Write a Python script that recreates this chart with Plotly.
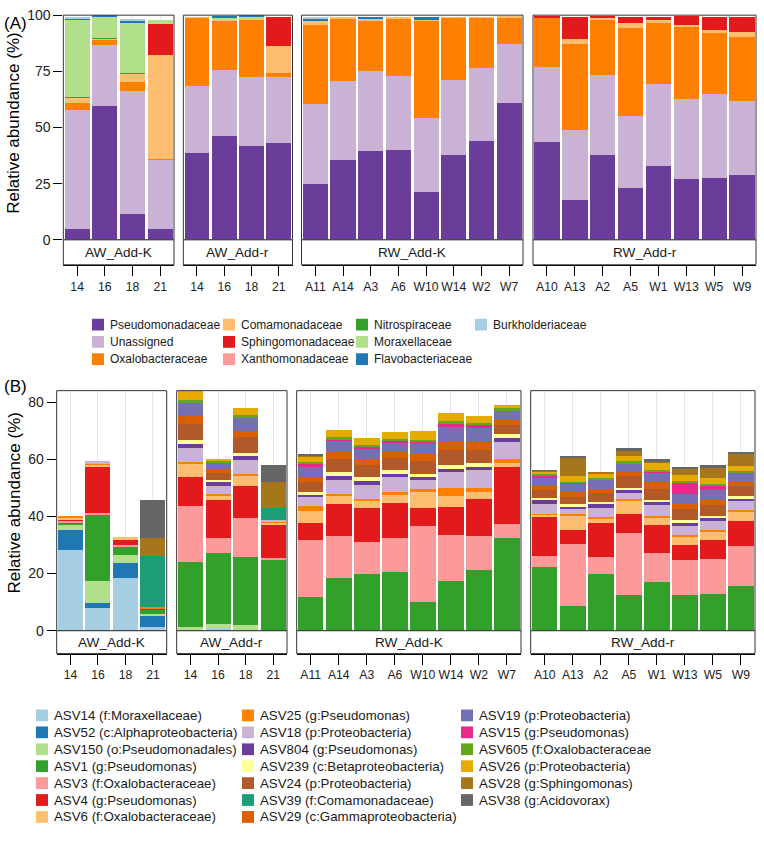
import plotly.graph_objects as go

W, H = 764, 849
FONT = "Liberation Sans, Arial, sans-serif"

# ---------------- data ----------------
groups = ["AW_Add-K", "AW_Add-r", "RW_Add-K", "RW_Add-r"]
samples_awk = ["14", "16", "18", "21"]
samples_awr = ["14", "16", "18", "21"]
samples_rwk = ["A11", "A14", "A3", "A6", "W10", "W14", "W2", "W7"]
samples_rwr = ["A10", "A13", "A2", "A5", "W1", "W13", "W5", "W9"]
samples = [samples_awk, samples_awr, samples_rwk, samples_rwr]

# Panel A: families (values in sample order AW_Add-K | AW_Add-r | RW_Add-K | RW_Add-r)
families = ["Pseudomonadaceae", "Unassigned", "Oxalobacteraceae", "Comamonadaceae",
            "Sphingomonadaceae", "Xanthomonadaceae", "Nitrospiraceae", "Moraxellaceae",
            "Flavobacteriaceae", "Burkholderiaceae"]
family_colors = ["#6A3D9A", "#CAB2D6", "#FF7F00", "#FDBF6F", "#E31A1C", "#FB9A99",
                 "#33A02C", "#B2DF8A", "#1F78B4", "#A6CEE3"]
pseudomonadaceae = [4.9, 59.7, 11.4, 4.8, 38.6, 46.4, 41.6, 42.9,
                    25.0, 35.4, 39.4, 39.9, 21.5, 37.7, 44.0, 60.8,
                    43.5, 17.6, 37.8, 23.0, 33.0, 27.2, 27.7, 28.8]
unassigned = [52.9, 27.2, 54.7, 30.9, 30.0, 29.1, 30.7, 29.4,
              35.5, 35.1, 35.9, 33.2, 32.6, 33.6, 32.6, 26.2,
              33.6, 31.3, 35.7, 32.2, 36.6, 35.4, 37.1, 32.8]
oxalobacteraceae = [3.0, 2.2, 4.1, 0.3, 30.2, 21.9, 25.8, 2.0,
                    35.3, 27.9, 22.1, 25.3, 43.3, 27.5, 22.2, 12.1,
                    21.7, 38.3, 24.2, 39.3, 27.1, 32.5, 27.2, 28.9]
comamonadaceae = [2.5, 0.5, 3.6, 46.3, 0.3, 0.3, 0.3, 12.1,
                  1.5, 0.7, 1.1, 0.6, 0.6, 0.3, 0.3, 0.2,
                  0.3, 2.0, 0.9, 1.9, 1.0, 0.6, 1.3, 2.2]
sphingomonadaceae = [0.0, 0.0, 0.0, 13.6, 0.0, 0.0, 0.0, 12.6,
                     0.0, 0.0, 0.0, 0.0, 0.0, 0.0, 0.0, 0.0,
                     0.2, 10.1, 0.9, 3.0, 1.7, 3.8, 6.0, 6.6]
xanthomonadaceae = [0.0, 0.0, 0.0, 0.0, 0.0, 0.0, 0.0, 0.0,
                    0.0, 0.0, 0.0, 0.0, 0.0, 0.0, 0.0, 0.0,
                    0.0, 0.0, 0.0, 0.0, 0.0, 0.0, 0.0, 0.0]
nitrospiraceae = [0.3, 0.1, 0.3, 0.0, 0.0, 0.0, 0.0, 0.0,
                  0.0, 0.0, 0.0, 0.0, 0.0, 0.0, 0.0, 0.0,
                  0.0, 0.0, 0.0, 0.0, 0.0, 0.0, 0.0, 0.0]
moraxellaceae = [34.2, 9.8, 22.6, 2.0, 0.0, 1.2, 0.8, 0.0,
                 0.0, 0.0, 0.0, 0.0, 0.0, 0.0, 0.0, 0.0,
                 0.0, 0.0, 0.0, 0.0, 0.0, 0.0, 0.0, 0.0]
flavobacteriaceae = [0.3, 0.4, 0.5, 0.0, 0.0, 0.5, 0.5, 0.0,
                     1.2, 0.0, 0.5, 0.0, 1.2, 0.0, 0.0, 0.0,
                     0.0, 0.0, 0.0, 0.0, 0.0, 0.0, 0.0, 0.0]
burkholderiaceae = [1.0, 0.0, 1.2, 0.0, 0.0, 0.0, 0.0, 0.0,
                    0.5, 0.0, 0.0, 0.0, 0.0, 0.0, 0.0, 0.0,
                    0.0, 0.0, 0.0, 0.0, 0.0, 0.0, 0.0, 0.0]
family_values = [pseudomonadaceae, unassigned, oxalobacteraceae, comamonadaceae,
                 sphingomonadaceae, xanthomonadaceae, nitrospiraceae, moraxellaceae,
                 flavobacteriaceae, burkholderiaceae]

# Panel B: ASVs
asvs = ["ASV14 (f:Moraxellaceae)", "ASV52 (c:Alphaproteobacteria)", "ASV150 (o:Pseudomonadales)",
        "ASV1 (g:Pseudomonas)", "ASV3 (f:Oxalobacteraceae)", "ASV4 (g:Pseudomonas)",
        "ASV6 (f:Oxalobacteraceae)", "ASV25 (g:Pseudomonas)", "ASV18 (p:Proteobacteria)",
        "ASV804 (g:Pseudomonas)", "ASV239 (c:Betaproteobacteria)", "ASV24 (p:Proteobacteria)",
        "ASV39 (f:Comamonadaceae)", "ASV29 (c:Gammaproteobacteria)", "ASV19 (p:Proteobacteria)",
        "ASV15 (g:Pseudomonas)", "ASV605 (f:Oxalobacteraceae", "ASV26 (p:Proteobacteria)",
        "ASV28 (g:Sphingomonas)", "ASV38 (g:Acidovorax)"]
asv_colors = ["#A6CEE3", "#1F78B4", "#B2DF8A", "#33A02C", "#FB9A99", "#E31A1C", "#FDBF6F",
              "#FF7F00", "#CAB2D6", "#6A3D9A", "#FFFF99", "#B15928", "#1B9E77", "#D95F02",
              "#7570B3", "#E7298A", "#66A61E", "#E6AB02", "#A6761D", "#666666"]
asv14 = [28.3, 8.1, 18.4, 1.3, 0.0, 1.0, 0.3, 0.0] + [0.0] * 16
asv52 = [7.1, 1.6, 5.3, 4.2, 0.0, 0.0, 0.0, 0.0] + [0.0] * 16
asv150 = [1.5, 7.8, 2.8, 0.3, 1.2, 1.5, 1.8, 0.0] + [0.0] * 16
asv1 = [1.2, 23.3, 3.2, 1.4, 22.9, 24.7, 23.6, 25.1,
        11.7, 18.3, 20.0, 20.4, 10.2, 17.4, 21.3, 32.4,
        22.2, 8.5, 19.9, 12.6, 17.0, 12.5, 13.0, 15.7]
asv3 = [0.5, 0.3, 0.3, 0.0, 19.7, 5.2, 13.6, 0.3,
        20.0, 15.0, 11.1, 12.1, 26.5, 16.2, 12.0, 5.0,
        4.1, 21.9, 6.0, 21.6, 10.1, 12.2, 12.1, 13.9]
asv4 = [0.6, 16.5, 2.2, 0.7, 10.1, 13.4, 11.5, 12.0,
        5.9, 10.9, 11.9, 12.2, 6.1, 9.8, 12.7, 20.0,
        13.6, 5.0, 11.7, 6.5, 10.0, 5.3, 6.8, 8.8]
asv6 = [0.5, 0.4, 0.6, 0.0, 4.8, 1.6, 3.6, 0.5,
        4.4, 3.4, 2.4, 2.9, 5.9, 3.7, 2.7, 1.2,
        0.8, 4.9, 1.8, 5.0, 2.6, 3.1, 2.9, 3.5]
asv25 = [0.3, 0.8, 0.0, 0.5, 0.3, 0.4, 0.3, 0.6,
         1.6, 0.4, 0.8, 0.9, 1.0, 2.8, 1.4, 1.4,
         0.3, 0.4, 0.3, 0.3, 0.3, 0.5, 0.5, 0.5]
asv18 = [0.0, 0.6, 0.0, 0.0, 5.0, 3.0, 5.2, 0.3,
         3.2, 4.9, 4.9, 5.3, 3.0, 5.5, 6.0, 6.2,
         3.5, 2.1, 3.3, 2.5, 3.9, 2.9, 3.1, 2.9]
asv804 = [0.0, 0.0, 0.0, 0.0, 1.4, 1.2, 1.4, 0.0,
          0.8, 1.1, 1.2, 1.1, 1.0, 1.1, 1.2, 1.4,
          1.4, 0.5, 1.2, 0.6, 1.2, 1.1, 1.0, 0.9]
asv239 = [0.0, 0.0, 0.0, 0.0, 1.5, 0.8, 0.9, 0.0,
          1.1, 1.4, 1.4, 1.4, 1.1, 1.4, 1.3, 1.2,
          0.7, 0.9, 0.9, 0.8, 0.8, 1.2, 0.9, 0.8]
asv24 = [0.0, 0.0, 0.0, 0.0, 5.3, 2.4, 5.5, 0.0,
         3.5, 4.6, 4.2, 4.1, 4.6, 5.3, 4.8, 3.2,
         2.7, 2.6, 3.1, 4.1, 3.8, 3.8, 3.6, 3.5]
asv39 = [0.0, 0.0, 0.0, 17.8, 0.0, 0.0, 0.0, 4.1] + [0.0] * 16
asv29 = [0.0, 0.0, 0.0, 0.0, 2.9, 1.5, 2.3, 0.0,
         1.7, 2.5, 2.3, 2.2, 2.3, 3.0, 2.8, 1.7,
         1.5, 1.7, 1.5, 1.6, 2.2, 1.9, 1.8, 1.4]
asv19 = [0.0, 0.0, 0.0, 0.0, 4.7, 2.0, 4.6, 0.0,
         3.4, 4.1, 3.8, 3.4, 4.2, 5.0, 4.6, 3.4,
         2.5, 3.2, 3.2, 3.2, 3.5, 3.4, 3.4, 3.5]
asv15 = [0.0, 0.0, 0.0, 0.0, 0.0, 0.0, 0.0, 0.0,
         0.9, 0.3, 0.2, 0.3, 0.2, 1.3, 1.2, 0.2,
         1.2, 0.3, 0.2, 0.0, 0.3, 4.0, 1.7, 0.2]
asv605 = [0.0, 0.0, 0.0, 0.0, 1.1, 0.7, 0.9, 0.0,
          0.8, 0.8, 0.9, 0.7, 0.7, 1.0, 0.8, 0.5,
          0.4, 0.2, 0.3, 0.5, 0.4, 0.6, 0.6, 0.4]
asv26 = [0.0, 0.0, 0.0, 0.0, 3.0, 0.7, 2.3, 0.0,
         2.2, 2.6, 2.3, 2.5, 3.1, 2.7, 2.3, 1.3,
         1.1, 1.8, 1.3, 2.0, 2.5, 2.1, 2.0, 1.5]
asv28 = [0.0, 0.0, 0.0, 6.4, 0.0, 0.0, 0.0, 9.0,
         0.4, 0.0, 0.0, 0.0, 0.0, 0.0, 0.0, 0.0,
         0.1, 6.3, 0.7, 1.5, 0.9, 2.3, 3.7, 4.6]
asv38 = [0.0, 0.0, 0.0, 13.0, 0.0, 0.0, 0.0, 6.0,
         0.3, 0.0, 0.0, 0.0, 0.0, 0.0, 0.0, 0.0,
         0.2, 1.0, 0.0, 1.2, 0.5, 0.5, 0.8, 0.6]
asv_values = [asv14, asv52, asv150, asv1, asv3, asv4, asv6, asv25, asv18, asv804,
              asv239, asv24, asv39, asv29, asv19, asv15, asv605, asv26, asv28, asv38]

y_ticks_a = [0, 25, 50, 75, 100]
y_ticks_b = [0, 20, 40, 60, 80]

# ---------------- layout geometry (pixels) ----------------
def fx(p):
    return p / W


def fy(p):
    return 1 - p / H


panels = [
    dict(top=7.3, bottom=236.3, strip=261.7,
         xs=[(63.3, 174.0), (183.3, 292.5), (301.5, 523.0), (533.0, 756.0)],
         yrange=[0, 100.02], ticks=y_ticks_a, names=families, colors=family_colors,
         values=family_values, label="(A)", label_y=16, title_y=118),
    dict(top=390.0, bottom=634.7, strip=658.0,
         xs=[(56.7, 166.7), (176.7, 287.0), (296.7, 521.0), (530.7, 755.0)],
         yrange=[0, 84], ticks=y_ticks_b, names=asvs, colors=asv_colors,
         values=asv_values, label="(B)", label_y=386, title_y=505),
]

fig = go.Figure()
layout = dict(width=W, height=H, margin=dict(l=0, r=0, t=0, b=0),
              paper_bgcolor="white", plot_bgcolor="white", barmode="stack",
              bargap=0.09, showlegend=False)
shapes = []
annotations = []

starts = [0, 4, 8, 16]
for p, pan in enumerate(panels):
    ykey = "yaxis" if p == 0 else "yaxis2"
    yref = "y" if p == 0 else "y2"
    for k in range(4):
        n = p * 4 + k + 1
        xkey = "xaxis" if n == 1 else f"xaxis{n}"
        xref = "x" if n == 1 else f"x{n}"
        s0 = starts[k]
        cats = samples[k]
        for name, col, vals in zip(pan["names"], pan["colors"], pan["values"]):
            fig.add_trace(go.Bar(x=cats, y=vals[s0:s0 + len(cats)], name=name,
                                 marker=dict(color=col, line=dict(width=0)),
                                 xaxis=xref, yaxis=yref, showlegend=False,
                                 hovertemplate="%{x}: %{y}<extra>" + name + "</extra>"))
        x0, x1 = pan["xs"][k]
        layout[xkey] = dict(domain=[fx(x0), fx(x1)], anchor="free", position=fy(pan["strip"]),
                            type="category", categoryorder="array", categoryarray=cats,
                            range=[-0.5, len(cats) - 0.5], ticks="outside", ticklen=10,
                            tickwidth=1.2, tickcolor="black", showline=True, linecolor="black",
                            linewidth=1.3, showgrid=True, gridcolor="#E6E6E6", gridwidth=1,
                            tickangle=0, ticklabeloverflow="allow",
                            tickfont=dict(family=FONT, size=12.2, color="#222"),
                            zeroline=False, fixedrange=True)
        # panel border
        shapes.append(dict(type="rect", xref="paper", yref="paper", x0=fx(x0), x1=fx(x1),
                           y0=fy(pan["bottom"]), y1=fy(pan["top"]),
                           line=dict(color="#333333", width=1), fillcolor="rgba(0,0,0,0)"))
        # strip
        shapes.append(dict(type="rect", xref="paper", yref="paper", x0=fx(x0), x1=fx(x1),
                           y0=fy(pan["strip"]), y1=fy(pan["bottom"]),
                           line=dict(color="#333333", width=1), fillcolor="white"))
        annotations.append(dict(x=fx((x0 + x1) / 2), y=fy((pan["bottom"] + pan["strip"]) / 2),
                                xref="paper", yref="paper", text=groups[k], showarrow=False,
                                xanchor="center", yanchor="middle",
                                font=dict(family=FONT, size=13.6, color="#1a1a1a")))
    layout[ykey] = dict(domain=[fy(pan["bottom"]), fy(pan["top"])],
                        anchor="x" if p == 0 else "x5", range=pan["yrange"],
                        tickvals=pan["ticks"], ticks="outside", ticklen=9, tickwidth=1.2,
                        tickcolor="black", showline=False, showgrid=False, zeroline=False,
                        ticklabeloverflow="allow",
                        tickfont=dict(family=FONT, size=14, color="#222"), fixedrange=True)
    annotations.append(dict(x=fx(14), y=fy(pan["title_y"]), xref="paper", yref="paper",
                            text="Relative abundance (%)", textangle=-90, showarrow=False,
                            xanchor="center", yanchor="middle",
                            font=dict(family=FONT, size=17, color="black")))
    annotations.append(dict(x=fx(2), y=fy(pan["label_y"]), xref="paper", yref="paper",
                            text=pan["label"], showarrow=False, xanchor="left", yanchor="middle",
                            font=dict(family=FONT, size=17, color="black")))

# ---------------- legends (column-major grids) ----------------
legend_specs = [
    dict(names=families, colors=family_colors, nrow=3, keyx=[92, 223, 356, 475],
         y0=322.7, dy=17.6, font=12.0),
    dict(names=asvs, colors=asv_colors, nrow=7, keyx=[36, 242, 461],
         y0=721.0, dy=17.25, font=13.3),
]
KEY = 12
for spec in legend_specs:
    for i, (name, col) in enumerate(zip(spec["names"], spec["colors"])):
        c, r = divmod(i, spec["nrow"])
        kx = spec["keyx"][c]
        cy = spec["y0"] + r * spec["dy"]
        shapes.append(dict(type="rect", xref="paper", yref="paper", x0=fx(kx), x1=fx(kx + KEY),
                           y0=fy(cy + KEY / 2), y1=fy(cy - KEY / 2), fillcolor=col,
                           line=dict(width=0)))
        annotations.append(dict(x=fx(kx + KEY + 4), y=fy(cy), xref="paper", yref="paper",
                                text=name, showarrow=False, xanchor="left", yanchor="middle",
                                font=dict(family=FONT, size=spec["font"], color="#1a1a1a")))

layout["shapes"] = shapes
layout["annotations"] = annotations
fig.update_layout(**layout)
fig.write_html("out.html", config={"displayModeBar": False},
               post_script="document.body.style.margin='0px';document.body.style.overflow='hidden';")
